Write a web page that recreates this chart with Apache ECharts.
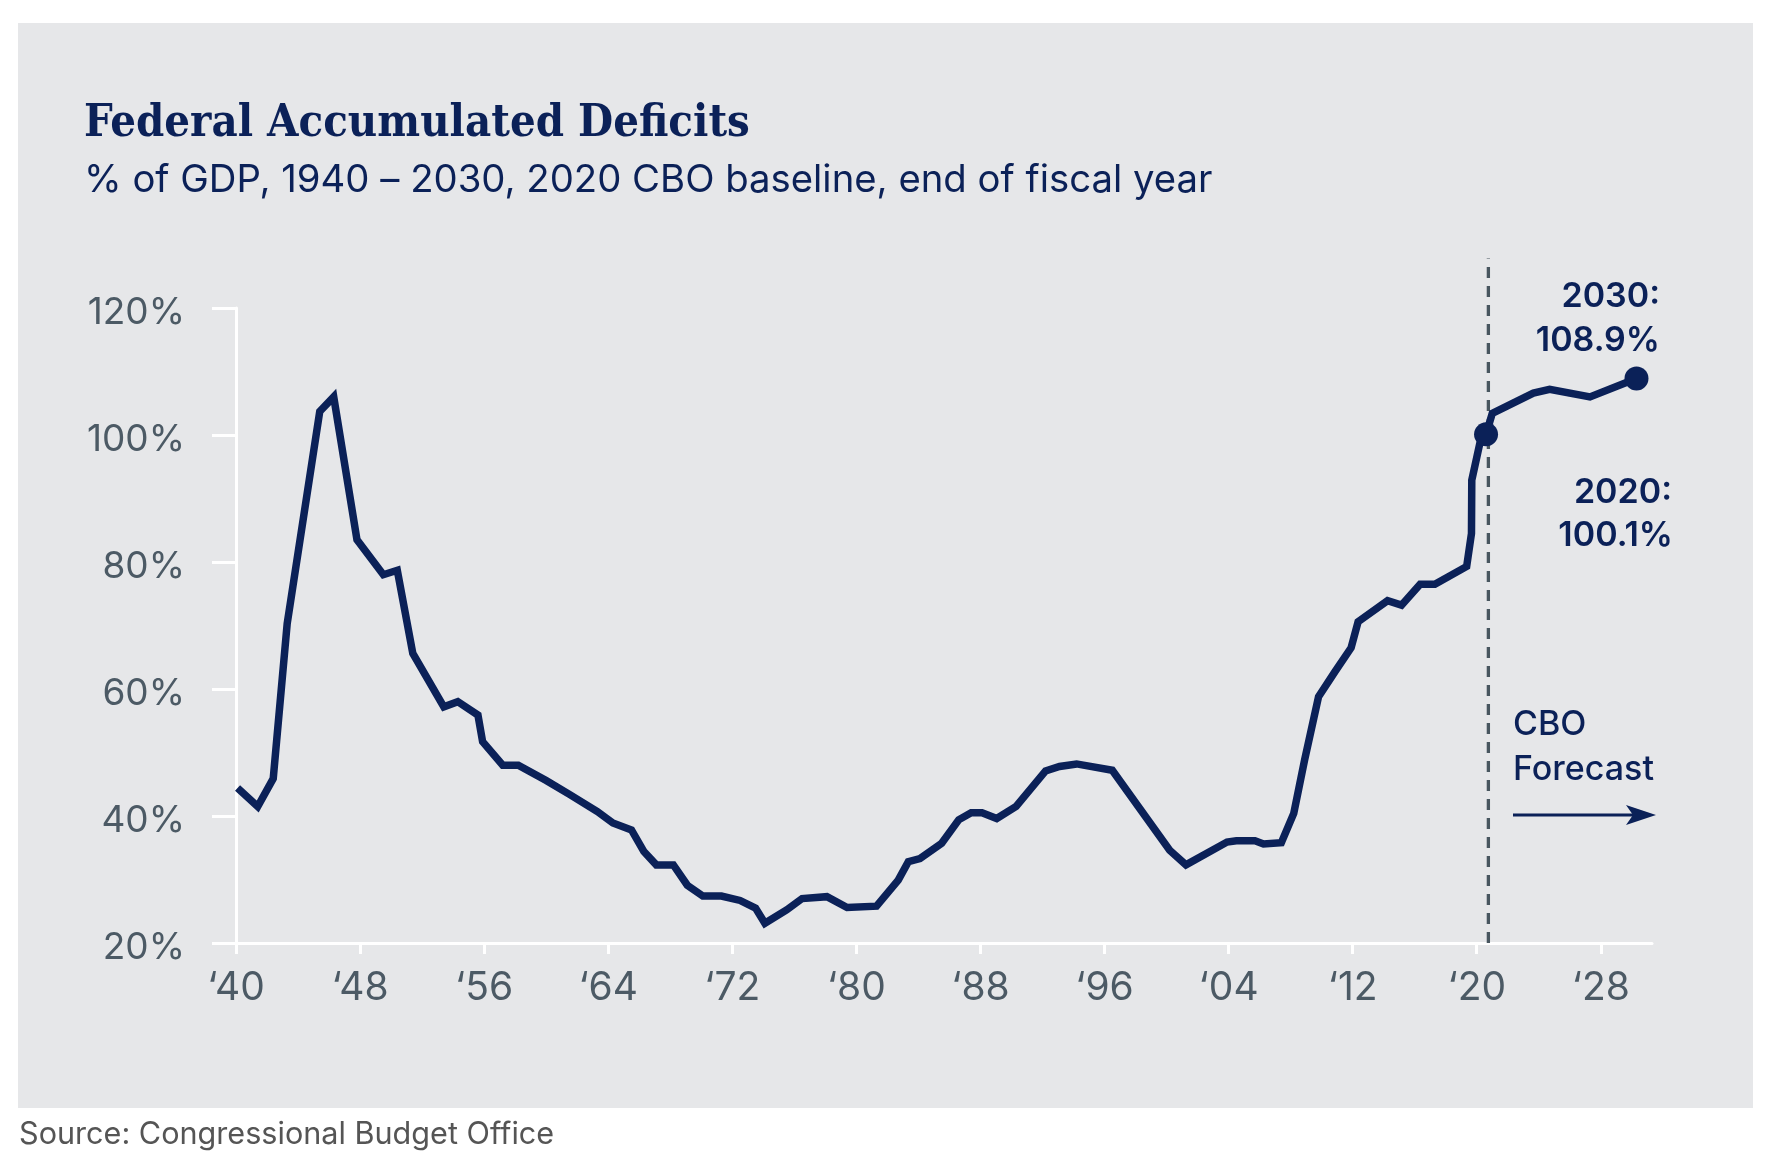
<!DOCTYPE html>
<html>
<head>
<meta charset="utf-8">
<script src="https://cdn.jsdelivr.net/npm/echarts@6/dist/echarts.min.js"></script>
<style>
html,body{margin:0;padding:0;background:#ffffff;}
#chart{width:1767px;height:1167px;}
</style>
</head>
<body>
<div id="chart"></div>
<script>
// ---- data (x = position in years along the axis, y = % of GDP) ----
const years = [
  1940.1, 1941.4, 1942.4, 1943.3, 1945.4, 1946.3, 1947.8, 1949.5, 1950.4, 1951.4,
  1953.4, 1954.3, 1955.6, 1955.9, 1957.2, 1958.2, 1960.0, 1961.5, 1963.3, 1964.3,
  1965.5, 1966.3, 1967.1, 1968.2, 1969.1, 1970.1, 1971.3, 1972.5, 1973.5, 1974.1,
  1975.5, 1976.5, 1978.1, 1979.4, 1981.3, 1982.7, 1983.35, 1984.1, 1985.5, 1986.6,
  1987.4, 1988.1, 1989.05, 1990.3, 1992.2, 1993.1, 1994.2, 1996.5, 2000.2, 2001.25,
  2003.9, 2004.5, 2005.7, 2006.25, 2007.4, 2008.2, 2008.9, 2009.8, 2010.85, 2011.9,
  2012.35, 2014.25, 2015.15, 2016.35, 2017.3, 2019.35, 2019.66, 2019.68, 2020.2, 2020.6,
  2021.0, 2023.65, 2024.7, 2027.3, 2030.3
];
const debtPct = [
  44.4, 41.5, 45.9, 70.3, 103.7, 106.0, 83.5, 78.0, 78.7, 65.6,
  57.2, 58.0, 55.9, 51.7, 48.0, 48.0, 45.6, 43.4, 40.7, 38.9,
  37.8, 34.4, 32.3, 32.3, 29.1, 27.4, 27.4, 26.7, 25.5, 23.1,
  25.2, 27.0, 27.3, 25.6, 25.8, 29.9, 32.8, 33.3, 35.7, 39.4,
  40.5, 40.5, 39.6, 41.5, 47.1, 47.8, 48.2, 47.2, 34.6, 32.3,
  35.9, 36.1, 36.1, 35.6, 35.8, 40.4, 48.8, 58.8, 62.7, 66.5,
  70.6, 73.9, 73.2, 76.5, 76.5, 79.3, 84.5, 92.9, 98.7, 100.1,
  103.4, 106.6, 107.2, 106.0, 108.9
];
const xTickYears = [1940, 1948, 1956, 1964, 1972, 1980, 1988, 1996, 2004, 2012, 2020, 2028];
const yTicks = [20, 40, 60, 80, 100, 120];
const highlightIdx = [69, 74];              // 2020 and 2030 points
const highlightLabels = ['2020', '2030'];
const forecastStart = 2020.75;              // dashed divider position
const dividerTop = 127.8;                   // dashed divider upper end (% scale)

const NAVY = '#0b2158';
const SLATE = '#4c5a65';
const SANS = "Inter, Lato, sans-serif";

const chart = echarts.init(document.getElementById('chart'), null, {renderer: 'canvas'});

const lineData = years.map((y, i) => [y, debtPct[i]]);
const dots = highlightIdx.map(i => [years[i], debtPct[i]]);
const fmtPct = v => v.toFixed(1) + '%';

const option = {
  animation: false,
  backgroundColor: '#ffffff',
  textStyle: {fontFamily: SANS},
  title: [
    {
      text: 'Federal Accumulated Deficits',
      left: 84, top: 102, padding: 0,
      textStyle: {fontFamily: "'DejaVu Serif Condensed', 'DejaVu Serif'", fontWeight: 'bold', fontSize: 45, color: NAVY}
    },
    {
      text: '% of GDP, 1940 \u2013 2030, 2020 CBO baseline, end of fiscal year',
      left: 84, top: 161, padding: 0,
      textStyle: {fontFamily: SANS, fontWeight: 'normal', fontSize: 38.3, color: NAVY}
    },
    {
      text: 'Source: Congressional Budget Office',
      left: 19, top: 1119, padding: 0,
      textStyle: {fontFamily: SANS, fontWeight: 'normal', fontSize: 30.6, color: '#555555'}
    }
  ],
  grid: {left: 236, right: 115, top: 308, bottom: 224, containLabel: false},
  xAxis: {
    type: 'value', min: 1940, max: 2031.3,
    axisLine: {show: true, onZero: false, lineStyle: {color: '#ffffff', width: 3}},
    axisTick: {show: true, customValues: xTickYears, length: 11, lineStyle: {color: '#ffffff', width: 3}},
    axisLabel: {
      customValues: xTickYears,
      formatter: v => '\u2018' + String(v).slice(2),
      fontSize: 39, color: SLATE, margin: 26, fontFamily: SANS
    },
    splitLine: {show: false}
  },
  yAxis: {
    type: 'value', min: yTicks[0], max: yTicks[yTicks.length - 1], interval: 20,
    axisLine: {show: true, lineStyle: {color: '#ffffff', width: 3}},
    axisTick: {show: true, length: 24, lineStyle: {color: '#ffffff', width: 3}},
    axisLabel: {formatter: v => v + '%', fontSize: 37, color: SLATE, margin: 51, fontFamily: SANS,
                verticalAlign: 'top', lineHeight: 10},
    splitLine: {show: false}
  },
  series: [
    {
      type: 'line', name: 'divider',
      data: [[forecastStart, yTicks[0]], [forecastStart, dividerTop]],
      clip: false, symbol: 'none', silent: true, z: 1,
      lineStyle: {color: '#48565f', width: 3.3, type: [11, 8]}
    },
    {
      type: 'line', name: 'debt',
      data: lineData,
      symbol: 'none', clip: false, z: 3,
      lineStyle: {color: NAVY, width: 7.5, join: 'miter', miterLimit: 10}
    },
    {
      type: 'scatter', name: 'highlights',
      data: dots, symbolSize: 24, z: 4,
      itemStyle: {color: NAVY, opacity: 1}
    }
  ],
  graphic: [
    {type: 'rect', z: -100, silent: true, shape: {x: 18, y: 23, width: 1735, height: 1085}, style: {fill: '#e6e7e9'}},
    {type: 'text', z: 10, style: {x: 1660, y: 297, text: highlightLabels[1] + ':', textAlign: 'right', textVerticalAlign: 'middle', font: '600 34px ' + SANS, fill: NAVY}},
    {type: 'text', z: 10, style: {x: 1660, y: 341, text: fmtPct(debtPct[highlightIdx[1]]), textAlign: 'right', textVerticalAlign: 'middle', font: '600 34px ' + SANS, fill: NAVY}},
    {type: 'text', z: 10, style: {x: 1672, y: 493, text: highlightLabels[0] + ':', textAlign: 'right', textVerticalAlign: 'middle', font: '600 34px ' + SANS, fill: NAVY}},
    {type: 'text', z: 10, style: {x: 1673, y: 536, text: fmtPct(debtPct[highlightIdx[0]]), textAlign: 'right', textVerticalAlign: 'middle', font: '600 34px ' + SANS, fill: NAVY}},
    {type: 'text', z: 10, style: {x: 1513, y: 725, text: 'CBO', textAlign: 'left', textVerticalAlign: 'middle', font: '500 34px ' + SANS, fill: NAVY}},
    {type: 'text', z: 10, style: {x: 1513, y: 770, text: 'Forecast', textAlign: 'left', textVerticalAlign: 'middle', font: '500 34px ' + SANS, fill: NAVY}},
    {type: 'line', z: 10, shape: {x1: 1513, y1: 815, x2: 1640, y2: 815}, style: {stroke: NAVY, lineWidth: 3}},
    {type: 'polygon', z: 10, shape: {points: [[1656, 815], [1626, 805], [1633, 815], [1626, 825]]}, style: {fill: NAVY}}
  ]
};
chart.setOption(option);
</script>
</body>
</html>
